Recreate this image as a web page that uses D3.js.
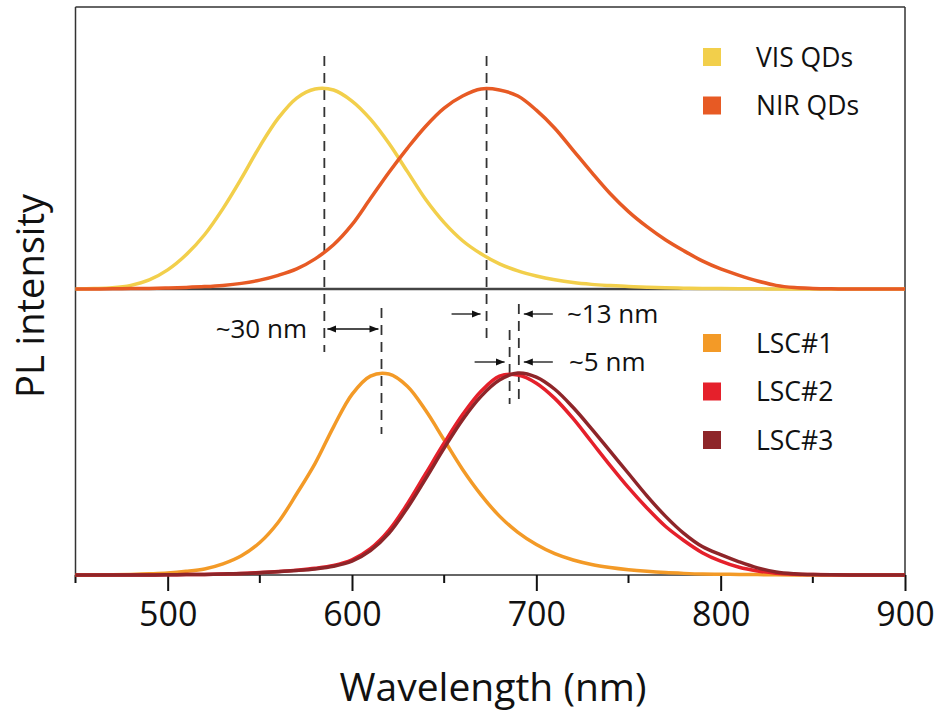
<!DOCTYPE html>
<html>
<head>
<meta charset="utf-8">
<script src="https://cdn.jsdelivr.net/npm/d3@7"></script>
<style>
  body { margin: 0; background: #fff; }
  text { font-family: "Open Sans", "Noto Sans", sans-serif; fill: #111; }
</style>
</head>
<body>
<script>
// wavelength grid (nm), 450..900 every 10 nm
const wl = d3.range(450, 901, 10);

// normalised PL intensities, one per grid point
const visVal  = [0, 0.002, 0.006, 0.018, 0.045, 0.095, 0.17, 0.27, 0.4, 0.55, 0.71, 0.85, 0.95, 0.995, 0.99, 0.935, 0.845, 0.725, 0.585, 0.445, 0.33, 0.24, 0.175, 0.125, 0.09, 0.065, 0.046, 0.032, 0.023, 0.017, 0.012, 0.009, 0.006, 0.004, 0.003, 0.002, 0.001, 0.001, 0, 0, 0, 0, 0, 0, 0, 0];
const nirVal  = [0, 0, 0.001, 0.002, 0.003, 0.005, 0.008, 0.012, 0.018, 0.028, 0.044, 0.068, 0.1, 0.15, 0.22, 0.32, 0.45, 0.58, 0.7, 0.81, 0.9, 0.96, 0.995, 0.99, 0.96, 0.89, 0.8, 0.69, 0.58, 0.475, 0.385, 0.31, 0.245, 0.19, 0.14, 0.1, 0.068, 0.04, 0.018, 0.007, 0.003, 0.001, 0, 0, 0, 0];
const lsc1Val = [0, 0, 0.001, 0.003, 0.006, 0.01, 0.018, 0.03, 0.055, 0.095, 0.16, 0.26, 0.4, 0.55, 0.73, 0.89, 0.98, 0.99, 0.93, 0.81, 0.665, 0.52, 0.395, 0.29, 0.21, 0.15, 0.105, 0.074, 0.052, 0.037, 0.026, 0.018, 0.012, 0.008, 0.005, 0.004, 0.003, 0.002, 0.001, 0, 0, 0, 0, 0, 0, 0];
const lsc2Val = [0, 0, 0, 0, 0, 0.001, 0.002, 0.003, 0.005, 0.008, 0.012, 0.017, 0.024, 0.033, 0.047, 0.075, 0.13, 0.22, 0.35, 0.5, 0.65, 0.79, 0.905, 0.98, 0.985, 0.945, 0.87, 0.77, 0.655, 0.54, 0.43, 0.33, 0.24, 0.17, 0.11, 0.068, 0.038, 0.02, 0.009, 0.004, 0.002, 0.001, 0, 0, 0, 0];
const lsc3Val = [0, 0, 0, 0, 0, 0.001, 0.002, 0.003, 0.005, 0.007, 0.011, 0.016, 0.022, 0.03, 0.043, 0.068, 0.12, 0.205, 0.33, 0.475, 0.625, 0.765, 0.88, 0.96, 0.995, 0.975, 0.915, 0.825, 0.72, 0.61, 0.5, 0.39, 0.29, 0.205, 0.14, 0.1, 0.065, 0.035, 0.015, 0.006, 0.002, 0.001, 0, 0, 0, 0];

const topNames = ["VIS QDs", "NIR QDs"];
const topColors = ["#f2cf4b", "#e75a24"];
const botNames = ["LSC#1", "LSC#2", "LSC#3"];
const botColors = ["#f39a27", "#e5202b", "#8e2529"];

const xTicks = [500, 600, 700, 800, 900];
const xMinor = [450, 550, 650, 750, 850];

// peak markers (nm)
const visPeak = 585, nirPeak = 673, lsc1Peak = 616, lsc2Peak = 685.5, lsc3Peak = 690.5;

const W = 941, H = 720;
const svg = d3.select("body").append("svg")
    .attr("width", W)
    .attr("height", H);

const x = d3.scaleLinear().domain([450, 900]).range([75.5, 905]);
const yTop = d3.scaleLinear().domain([0, 1]).range([289, 88]);
const yBot = d3.scaleLinear().domain([0, 1]).range([575, 372]);

const frame = svg.append("g").attr("stroke", "#333").attr("fill", "none");
frame.append("line").attr("x1", 75.5).attr("x2", 75.5).attr("y1", 7).attr("y2", 575).attr("stroke-width", 1.5);
frame.append("line").attr("x1", 75.5).attr("x2", 905).attr("y1", 7).attr("y2", 7).attr("stroke-width", 1.5);
frame.append("line").attr("x1", 905).attr("x2", 905).attr("y1", 7).attr("y2", 575).attr("stroke-width", 1.5);
frame.append("line").attr("x1", 75.5).attr("x2", 905).attr("y1", 289).attr("y2", 289).attr("stroke-width", 2.5).attr("stroke", "#444");
frame.append("line").attr("x1", 75.5).attr("x2", 905).attr("y1", 575).attr("y2", 575).attr("stroke-width", 1.5);

// bottom axis
const axis = svg.append("g").attr("transform", "translate(0,575)");
axis.call(d3.axisBottom(x).tickValues(xTicks).tickSize(16).tickFormat(d3.format("d")))
    .call(g => g.select(".domain").remove())
    .call(g => g.selectAll(".tick line").attr("stroke", "#111").attr("stroke-width", 2))
    .call(g => g.selectAll(".tick text").attr("font-size", 34).attr("dy", "0.95em").attr("font-family", "Open Sans").attr("fill", "#111"));
axis.selectAll(".minor").data(xMinor).enter().append("line")
    .attr("x1", d => x(d)).attr("x2", d => x(d))
    .attr("y1", 0).attr("y2", 8)
    .attr("stroke", "#111").attr("stroke-width", 2);

const dash = svg.append("g").attr("stroke", "#333").attr("stroke-width", 1.8).attr("stroke-dasharray", "10,7");
function vdash(w, y1, y2) {
    dash.append("line").attr("x1", x(w)).attr("x2", x(w)).attr("y1", y1).attr("y2", y2);
}
vdash(visPeak, 56, 352);
vdash(nirPeak, 56, 344);
vdash(lsc1Peak, 308, 434);
vdash(lsc2Peak, 330, 404);
vdash(lsc3Peak, 304, 404);

const line = yScale => d3.line()
    .x(d => x(d[0]))
    .y(d => yScale(d[1]))
    .curve(d3.curveCatmullRom.alpha(0.5));

const zip = vals => wl.map((w, i) => [w, vals[i]]);

svg.append("g").selectAll("path").data([visVal, nirVal].map(zip)).enter().append("path")
    .attr("d", line(yTop))
    .attr("fill", "none")
    .attr("stroke", (d, i) => topColors[i])
    .attr("stroke-width", 3.5);

svg.append("g").selectAll("path").data([lsc1Val, lsc2Val, lsc3Val].map(zip)).enter().append("path")
    .attr("d", line(yBot))
    .attr("fill", "none")
    .attr("stroke", (d, i) => botColors[i])
    .attr("stroke-width", 3.5);

// arrows
const defs = svg.append("defs");
defs.append("marker").attr("id", "arr")
    .attr("viewBox", "0 0 10 10").attr("refX", 10).attr("refY", 5)
    .attr("markerWidth", 9).attr("markerHeight", 9).attr("markerUnits", "userSpaceOnUse")
    .attr("orient", "auto-start-reverse")
    .append("path").attr("d", "M0,1 L10,5 L0,9 Z").attr("fill", "#111");

const arrows = svg.append("g").attr("stroke", "#111").attr("stroke-width", 1.3);
function arrow(x1, x2, y, both) {
    const l = arrows.append("line").attr("x1", x1).attr("x2", x2).attr("y1", y).attr("y2", y)
        .attr("marker-end", "url(#arr)");
    if (both) l.attr("marker-start", "url(#arr)");
}
arrow(x(visPeak) + 3, x(lsc1Peak) - 3, 329, true);
arrow(x(nirPeak) - 35, x(nirPeak) - 6, 314);
arrow(x(lsc3Peak) + 34, x(lsc3Peak) + 5, 314);
arrow(x(lsc2Peak) - 35, x(lsc2Peak) - 5, 362);
arrow(x(lsc3Peak) + 34, x(lsc3Peak) + 5, 362);

const notes = svg.append("g").attr("font-size", 26);
notes.append("text").attr("x", 307).attr("y", 338).attr("text-anchor", "end").text("~30 nm");
notes.append("text").attr("x", 567).attr("y", 323).text("~13 nm");
notes.append("text").attr("x", 569).attr("y", 371).text("~5 nm");

// legends
function legend(names, colors, y0) {
    const g = svg.append("g");
    names.forEach((n, i) => {
        g.append("rect").attr("x", 703).attr("y", y0 + i * 48.5 - 9).attr("width", 18).attr("height", 18).attr("fill", colors[i]);
        g.append("text").attr("x", 756).attr("y", y0 + i * 48.5 + 9.5).attr("font-size", 26.5).text(n);
    });
}
legend(topNames, topColors, 57);
legend(botNames, botColors, 343);

svg.append("text").attr("x", 493).attr("y", 701).attr("text-anchor", "middle").attr("font-size", 39).text("Wavelength (nm)");
svg.append("text").attr("transform", "translate(44,296) rotate(-90)").attr("text-anchor", "middle").attr("font-size", 38).text("PL intensity");
</script>
</body>
</html>
